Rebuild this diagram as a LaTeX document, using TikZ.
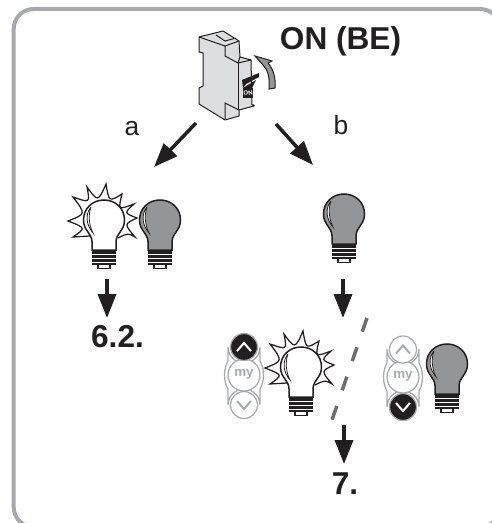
\documentclass[tikz,border=0pt]{standalone}
\usepackage{fontspec}
\setmainfont{Liberation Sans}
\usetikzlibrary{positioning, arrows.meta, calc}
\definecolor{lampgrey}{RGB}{147,149,152}
\definecolor{framegrey}{RGB}{167,169,172}
\definecolor{inkblack}{RGB}{35,31,32}
\definecolor{boxgrey}{RGB}{220,221,222}
\definecolor{dashgrey}{RGB}{109,110,113}

\begin{document}
\begin{tikzpicture}[
        x=0.02cm, y=-0.02cm,
        flow/.style={-{Triangle[width=0.36cm,length=0.48cm]}, line width=0.07cm, draw=inkblack},
        bigtext/.style={font=\bfseries\fontsize{18}{20}\selectfont, text=inkblack, inner sep=0pt, anchor=base},
        lettertext/.style={font=\fontsize{15}{18}\selectfont, text=inkblack, inner sep=0pt, anchor=base},
        mylabel/.style={font=\bfseries\fontsize{7.6}{9}\selectfont, text=framegrey, inner sep=0pt},
        outline/.style={line width=0.02cm, draw=inkblack},
        keyline/.style={line width=0.025cm, draw=framegrey},
        bulb/.pic={
            \path[outline, line width=0.03cm, fill=#1] (-12,50) -- (-12,42) .. controls (-12,33) and (-20.5,31) .. (-20.5,20)
                .. controls (-20.5,8) and (-11,0) .. (0,0) .. controls (11,0) and (20.5,8) .. (20.5,20)
                .. controls (20.5,31) and (12,33) .. (12,42) -- (12,50) -- cycle;
            \draw[outline, line width=0.015cm, fill=white] (-13,7) .. controls (-19,14) and (-18,25) .. (-11,33)
                .. controls (-15,25) and (-16,15) .. (-13,7);
            \fill[inkblack] (-12,50) rectangle (12,65);
            \foreach \y in {54,58,62}
                \draw[white, line width=0.018cm] (-12,\y) -- (12,\y);
            \draw[outline, line width=0.03cm, fill=white] (-6,65) -- (-6,68.5) -- (6,68.5) -- (6,65);
        },
        rays/.pic={
            \draw[outline, line width=0.025cm, line join=miter]
                (-14,36) -- (-31,37) .. controls (-18,28) .. (-36,21)
                .. controls (-18,14) .. (-31,-3)
                .. controls (-14,3) .. (-17,-13)
                .. controls (-6,2) .. (2,-16)
                .. controls (5,2) .. (18,-6)
                .. controls (14,10) .. (30,4)
                .. controls (20,13) .. (33,18)
                .. controls (20,24) .. (31,37)
                .. controls (24,33) .. (14,38);
        },
        remote/.pic={
            \draw[keyline, fill=white] (-16,-28) arc[start angle=180, end angle=0, radius=16]
                -- (16,-14) .. controls (18,-11) and (19.5,-5) .. (19.5,0) .. controls (19.5,5) and (18,11) .. (16,14)
                -- (16,30) arc[start angle=0, end angle=-180, radius=16] -- (-16,14)
                .. controls (-18,11) and (-19.5,5) .. (-19.5,0) .. controls (-19.5,-5) and (-18,-11) .. (-16,-14) -- cycle;
            \draw[keyline, fill=white] (0,0) circle[radius=16];
            \node[mylabel] (#1-my) at (0,-1) {my};
        },
        pics/keyup/.style 2 args={code={
            \draw[keyline, fill=#1] (0,0) circle[radius=13.5];
            \draw[keyline, draw=#2, line width=0.04cm] (-7,4) -- (0,-4) -- (7,4);
        }},
        pics/keydown/.style 2 args={code={
            \draw[keyline, fill=#1] (0,0) circle[radius=13.5];
            \draw[keyline, draw=#2, line width=0.04cm] (-7,-4) -- (0,4) -- (7,-4);
        }},
    ]

    % page and frame, cut off by the page on two sides
    \useasboundingbox (0,0) rectangle (492,523);
    \begin{scope}
        \clip (0,0) rectangle (492,523);
        \draw[framegrey, line width=0.08cm, rounded corners=0.4cm] (13.7,9) rectangle (500,527);
    \end{scope}

    % circuit breaker
    \draw[outline, fill=boxgrey, line join=round] (199,37) -- (223,31) -- (239,41) -- (240,57) -- (251,60) -- (252,105)
        -- (254,105) -- (254,106) -- (239,110) -- (239,116) -- (225,120) -- (199,104) -- (199,88) -- (203,86)
        -- (203,53) -- (199,52) -- cycle;
    \draw[outline] (199,37) -- (225,46) -- (239,41);
    \draw[outline] (225,46) -- (225,56) -- (238,63) -- (240,57);
    \draw[outline] (238,63) -- (238,110);
    \draw[outline] (238,63) -- (251,60);
    \draw[outline] (225,120) -- (225,103) -- (239,110);
    \draw[outline] (216,35) -- (225,41) -- (236,38);
    \fill[inkblack] (242,80) -- (259,73) -- (259,77) -- (246,84) -- (243,88) -- cycle;
    \fill[inkblack] (243,88) -- (256,80) -- (247,98) -- (243,98) -- cycle;
    \fill[inkblack] (243,88) rectangle (253,98);
    \node[font=\bfseries\fontsize{3.5}{4}\selectfont, text=white, inner sep=0pt, rotate=10] (breaker-on) at (248,93) {ON};
    \draw[outline, fill=lampgrey] (269,89) .. controls (270,78) and (268,70) .. (263,65) -- (255,56) -- (272,61) -- (268,63)
        .. controls (274,70) and (276,80) .. (275,88) -- cycle;

    \node[bigtext] (title) at (340.5,50) {ON (BE)};
    \node[lettertext] (label-a) at (132,135.7) {a};
    \node[lettertext] (label-b) at (341,135) {b};

    % arrows from the breaker
    \coordinate (breaker-a) at (196,123);
    \coordinate (lamp-a) at (154,167);
    \coordinate (breaker-b) at (276,124);
    \coordinate (lamp-b) at (313,165);
    \draw[flow] (breaker-a) -- (lamp-a);
    \draw[flow] (breaker-b) -- (lamp-b);

    % branch a
    \pic at (104,200) {bulb=white};
    \pic at (104,200) {rays};
    \pic at (160,200) {bulb=lampgrey};
    \coordinate (a-from) at (107,279);
    \coordinate (a-to) at (107,318);
    \node[bigtext] (goto-a) at (117.5,347) {6.2.};
    \draw[flow] (a-from) -- (a-to);

    % branch b
    \pic at (344,194) {bulb=lampgrey};
    \coordinate (b-from) at (343,279);
    \coordinate (b-to) at (343,318);
    \draw[flow] (b-from) -- (b-to);

    \pic at (244,375) {remote=left};
    \pic at (244,347) {keyup={inkblack}{white}};
    \pic at (244,405) {keydown={white}{framegrey}};
    \pic at (301,347) {bulb=white};
    \pic at (301,347) {rays};

    \pic at (403,377) {remote=right};
    \pic at (403,349.5) {keyup={white}{framegrey}};
    \pic at (403,407) {keydown={inkblack}{white}};
    \pic at (447,344) {bulb=lampgrey};

    % dashed divider
    \coordinate (split-top) at (367,318);
    \coordinate (split-end) at (332,420);
    \draw[draw=dashgrey, line width=0.07cm, dash pattern=on 0.29cm off 0.33cm] (split-top) -- (split-end);

    \coordinate (c-from) at (344,425);
    \coordinate (c-to) at (344,464);
    \node[bigtext] (goto-b) at (345,494.7) {7.};
    \draw[flow] (c-from) -- (c-to);
\end{tikzpicture}
\end{document}
